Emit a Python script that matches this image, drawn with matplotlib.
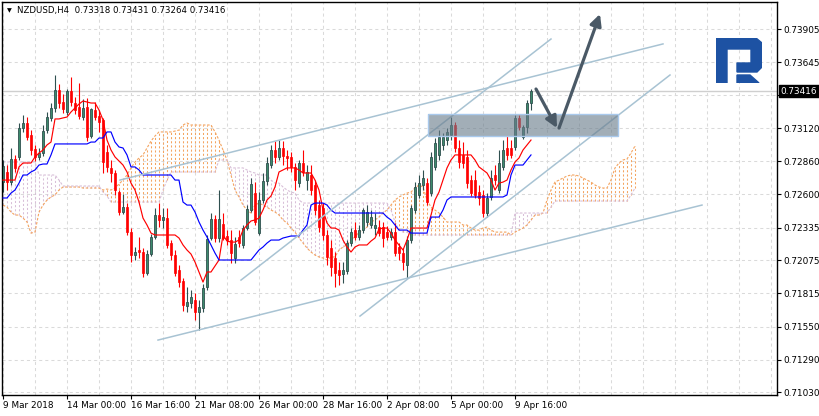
import numpy as np
import matplotlib
matplotlib.use("Agg")
import matplotlib.pyplot as plt
from matplotlib.patches import Rectangle, Polygon

plt.rcParams['font.family'] = ['DejaVu Sans']
plt.rcParams['lines.scale_dashes'] = False

# --- DATA (NZDUSD H4, one value per bar) ---
header = "NZDUSD,H4  0.73318 0.73431 0.73264 0.73416"
last_price = 0.73416

opens = [
    0.72695, 0.72775, 0.72695, 0.72878, 0.72894, 0.73123, 0.73163, 0.73068, 0.72957, 0.72894,
    0.72925, 0.73107, 0.73202, 0.73281, 0.73424, 0.73329, 0.73250, 0.73416, 0.73321, 0.73289,
    0.73210, 0.73289, 0.73060, 0.73266, 0.73218, 0.73187, 0.72933, 0.72807, 0.72767, 0.72616,
    0.72458, 0.72497, 0.72300, 0.72117, 0.72157, 0.72141, 0.71975, 0.72125, 0.72260, 0.72434,
    0.72395, 0.72410, 0.72212, 0.72117, 0.71999, 0.71911, 0.71714, 0.71737, 0.71761, 0.71666,
    0.71698, 0.71864, 0.72252, 0.72402, 0.72252, 0.72363, 0.72268, 0.72236, 0.72094, 0.72260,
    0.72197, 0.72331, 0.72474, 0.72608, 0.72292, 0.72553, 0.72703, 0.72830, 0.72949, 0.72894,
    0.72965, 0.72901, 0.72894, 0.72814, 0.72687, 0.72846, 0.72711, 0.72751, 0.72672, 0.72513,
    0.72490, 0.72276, 0.72173, 0.72094, 0.71999, 0.71967, 0.71991, 0.72212, 0.72315, 0.72260,
    0.72315, 0.72379, 0.72355, 0.72331, 0.72339, 0.72339, 0.72300, 0.72260, 0.72300, 0.72181,
    0.72133, 0.72038, 0.72236, 0.72474, 0.72592, 0.72672, 0.72687, 0.72608, 0.72814, 0.72909,
    0.72989, 0.73028, 0.73068, 0.73147, 0.72965, 0.72909, 0.72894, 0.72711, 0.72711, 0.72616,
    0.72592, 0.72450, 0.72577, 0.72751, 0.72632, 0.72814, 0.72965, 0.72965, 0.72973, 0.73202,
    0.73052, 0.73131, 0.73318,
]
highs = [
    0.72870, 0.72830, 0.72965, 0.72910, 0.73163, 0.73226, 0.73210, 0.73107, 0.72989, 0.72965,
    0.73147, 0.73250, 0.73321, 0.73543, 0.73472, 0.73392, 0.73432, 0.73527, 0.73369, 0.73480,
    0.73353, 0.73361, 0.73281, 0.73329, 0.73266, 0.73202, 0.72989, 0.72870, 0.72791, 0.72632,
    0.72600, 0.72529, 0.72331, 0.72181, 0.72260, 0.72173, 0.72157, 0.72283, 0.72490, 0.72529,
    0.72490, 0.72490, 0.72236, 0.72157, 0.72038, 0.71935, 0.71864, 0.71840, 0.71816, 0.71761,
    0.71888, 0.72276, 0.72450, 0.72434, 0.72632, 0.72450, 0.72315, 0.72315, 0.72260, 0.72315,
    0.72355, 0.72513, 0.72727, 0.72695, 0.72616, 0.72767, 0.72894, 0.72989, 0.73020, 0.73028,
    0.73020, 0.72949, 0.72933, 0.72846, 0.72870, 0.72949, 0.72830, 0.72830, 0.72711, 0.72553,
    0.72529, 0.72315, 0.72236, 0.72141, 0.72062, 0.72062, 0.72236, 0.72331, 0.72379, 0.72355,
    0.72490, 0.72513, 0.72474, 0.72450, 0.72395, 0.72379, 0.72347, 0.72331, 0.72371, 0.72212,
    0.72173, 0.72268, 0.72513, 0.72695, 0.72751, 0.72791, 0.72727, 0.72933, 0.73044, 0.73107,
    0.73083, 0.73123, 0.73210, 0.73171, 0.73028, 0.73012, 0.72949, 0.72751, 0.72791, 0.72672,
    0.72632, 0.72608, 0.72791, 0.72830, 0.72949, 0.73028, 0.73060, 0.73028, 0.73226, 0.73226,
    0.73147, 0.73345, 0.73431,
]
lows = [
    0.72616, 0.72632, 0.72672, 0.72775, 0.72870, 0.73091, 0.73028, 0.72909, 0.72862, 0.72870,
    0.72901, 0.73083, 0.73179, 0.73250, 0.73281, 0.73242, 0.73226, 0.73297, 0.73234, 0.73194,
    0.73187, 0.73020, 0.73044, 0.73187, 0.73091, 0.72767, 0.72775, 0.72695, 0.72592, 0.72434,
    0.72442, 0.72276, 0.72062, 0.72078, 0.72094, 0.71943, 0.71959, 0.72109, 0.72244, 0.72339,
    0.72331, 0.72173, 0.72078, 0.71951, 0.71864, 0.71674, 0.71666, 0.71698, 0.71603, 0.71523,
    0.71666, 0.71840, 0.72236, 0.72220, 0.72220, 0.72236, 0.72197, 0.72054, 0.72054, 0.72181,
    0.72173, 0.72315, 0.72458, 0.72355, 0.72276, 0.72529, 0.72672, 0.72807, 0.72846, 0.72870,
    0.72830, 0.72791, 0.72775, 0.72632, 0.72656, 0.72743, 0.72632, 0.72592, 0.72434, 0.72300,
    0.72236, 0.72038, 0.71951, 0.71864, 0.71880, 0.71896, 0.71967, 0.72189, 0.72236, 0.72236,
    0.72292, 0.72347, 0.72331, 0.72276, 0.72268, 0.72181, 0.72236, 0.72236, 0.72109, 0.72078,
    0.71999, 0.71935, 0.72212, 0.72450, 0.72568, 0.72632, 0.72513, 0.72584, 0.72791, 0.72870,
    0.72949, 0.72989, 0.73028, 0.72933, 0.72807, 0.72807, 0.72648, 0.72584, 0.72568, 0.72513,
    0.72418, 0.72418, 0.72553, 0.72672, 0.72608, 0.72791, 0.72870, 0.72886, 0.72949, 0.73107,
    0.73036, 0.73083, 0.73264,
]
closes = [
    0.72822, 0.72695, 0.72878, 0.72806, 0.73123, 0.73163, 0.73052, 0.72949, 0.72894, 0.72925,
    0.73099, 0.73210, 0.73281, 0.73424, 0.73321, 0.73274, 0.73416, 0.73329, 0.73266, 0.73218,
    0.73281, 0.73052, 0.73274, 0.73210, 0.73171, 0.72854, 0.72814, 0.72767, 0.72632, 0.72458,
    0.72497, 0.72300, 0.72117, 0.72141, 0.72141, 0.71975, 0.72125, 0.72260, 0.72434, 0.72395,
    0.72418, 0.72197, 0.72117, 0.71975, 0.71903, 0.71721, 0.71745, 0.71785, 0.71666, 0.71706,
    0.71856, 0.72244, 0.72402, 0.72252, 0.72402, 0.72252, 0.72236, 0.72133, 0.72205, 0.72212,
    0.72331, 0.72482, 0.72680, 0.72379, 0.72553, 0.72703, 0.72846, 0.72949, 0.72894, 0.72965,
    0.72901, 0.72886, 0.72814, 0.72711, 0.72846, 0.72775, 0.72775, 0.72632, 0.72474, 0.72339,
    0.72276, 0.72101, 0.72022, 0.71975, 0.71959, 0.71999, 0.72212, 0.72300, 0.72260, 0.72315,
    0.72474, 0.72458, 0.72418, 0.72355, 0.72292, 0.72252, 0.72260, 0.72300, 0.72133, 0.72133,
    0.72062, 0.72236, 0.72490, 0.72656, 0.72687, 0.72727, 0.72537, 0.72894, 0.73004, 0.73052,
    0.73052, 0.73091, 0.73147, 0.72965, 0.72854, 0.72846, 0.72687, 0.72608, 0.72592, 0.72568,
    0.72450, 0.72568, 0.72727, 0.72711, 0.72846, 0.72949, 0.72909, 0.72909, 0.73202, 0.73131,
    0.73131, 0.73321, 0.73416,
]

tenkan = [
    0.72711, 0.72711, 0.72711, 0.72711, 0.72815, 0.72846, 0.72846, 0.72846, 0.72894, 0.72925,
    0.72949, 0.72989, 0.73012, 0.73195, 0.73195, 0.73203, 0.73210, 0.73250, 0.73282, 0.73313,
    0.73337, 0.73329, 0.73321, 0.73321, 0.73266, 0.73187, 0.73028, 0.72949, 0.72894, 0.72862,
    0.72830, 0.72775, 0.72687, 0.72632, 0.72537, 0.72410, 0.72355, 0.72291, 0.72276, 0.72276,
    0.72276, 0.72276, 0.72276, 0.72276, 0.72252, 0.72197, 0.72157, 0.72125, 0.72062, 0.71983,
    0.71903, 0.71983, 0.71983, 0.72030, 0.72078, 0.72276, 0.72228, 0.72220, 0.72220, 0.72236,
    0.72315, 0.72355, 0.72387, 0.72395, 0.72410, 0.72474, 0.72553, 0.72585, 0.72656, 0.72775,
    0.72791, 0.72807, 0.72807, 0.72807, 0.72791, 0.72767, 0.72767, 0.72767, 0.72711, 0.72632,
    0.72474, 0.72371, 0.72331, 0.72331, 0.72315, 0.72236, 0.72181, 0.72141, 0.72181, 0.72197,
    0.72197, 0.72197, 0.72228, 0.72252, 0.72323, 0.72331, 0.72331, 0.72291, 0.72236, 0.72197,
    0.72157, 0.72236, 0.72331, 0.72331, 0.72331, 0.72331, 0.72331, 0.72434, 0.72553, 0.72616,
    0.72711, 0.72807, 0.72870, 0.72910, 0.72910, 0.72910, 0.72910, 0.72910, 0.72870, 0.72815,
    0.72791, 0.72767, 0.72711, 0.72632, 0.72687, 0.72695, 0.72711, 0.72791, 0.72854, 0.72886,
    0.72949, 0.72989, 0.73028,
]
kijun = [
    0.72569, 0.72569, 0.72608, 0.72632, 0.72687, 0.72751, 0.72751, 0.72775, 0.72791, 0.72830,
    0.72838, 0.72838, 0.72910, 0.72997, 0.72997, 0.72997, 0.72997, 0.72997, 0.72997, 0.72997,
    0.72997, 0.72997, 0.73012, 0.73012, 0.73044, 0.73044, 0.73092, 0.73092, 0.73012, 0.72973,
    0.72965, 0.72910, 0.72815, 0.72815, 0.72791, 0.72751, 0.72751, 0.72751, 0.72751, 0.72751,
    0.72751, 0.72751, 0.72751, 0.72711, 0.72711, 0.72537, 0.72513, 0.72513, 0.72458, 0.72379,
    0.72315, 0.72260, 0.72197, 0.72133, 0.72078, 0.72078, 0.72078, 0.72078, 0.72078, 0.72078,
    0.72078, 0.72078, 0.72078, 0.72117, 0.72157, 0.72181, 0.72212, 0.72236, 0.72236, 0.72236,
    0.72252, 0.72260, 0.72268, 0.72268, 0.72268, 0.72315, 0.72355, 0.72513, 0.72529, 0.72529,
    0.72529, 0.72513, 0.72474, 0.72450, 0.72450, 0.72450, 0.72450, 0.72450, 0.72450, 0.72450,
    0.72450, 0.72450, 0.72450, 0.72450, 0.72450, 0.72450, 0.72418, 0.72395, 0.72355, 0.72315,
    0.72315, 0.72315, 0.72291, 0.72291, 0.72291, 0.72291, 0.72291, 0.72418, 0.72418, 0.72418,
    0.72474, 0.72553, 0.72577, 0.72577, 0.72577, 0.72577, 0.72577, 0.72577, 0.72577, 0.72577,
    0.72577, 0.72577, 0.72577, 0.72577, 0.72577, 0.72577, 0.72593, 0.72751, 0.72830, 0.72830,
    0.72830, 0.72870, 0.72910,
]
# cloud, shifted 26 bars ahead of the last candle
span_a = [
    0.72513, 0.72497, 0.72458, 0.72434, 0.72434, 0.72410, 0.72379, 0.72291, 0.72299, 0.72458,
    0.72513, 0.72553, 0.72577, 0.72593, 0.72632, 0.72656, 0.72656, 0.72656, 0.72656, 0.72656,
    0.72648, 0.72648, 0.72648, 0.72648, 0.72648, 0.72632, 0.72640, 0.72632, 0.72648, 0.72680,
    0.72711, 0.72751, 0.72807, 0.72854, 0.72886, 0.72910, 0.72965, 0.73020, 0.73060, 0.73092,
    0.73092, 0.73092, 0.73092, 0.73099, 0.73107, 0.73147, 0.73163, 0.73147, 0.73147, 0.73147,
    0.73147, 0.73147, 0.73147, 0.73092, 0.73028, 0.72949, 0.72870, 0.72751, 0.72632, 0.72577,
    0.72513, 0.72474, 0.72450, 0.72513, 0.72529, 0.72513, 0.72497, 0.72474, 0.72458, 0.72434,
    0.72395, 0.72371, 0.72331, 0.72299, 0.72252, 0.72212, 0.72173, 0.72141, 0.72117, 0.72102,
    0.72094, 0.72078, 0.72102, 0.72102, 0.72157, 0.72181, 0.72197, 0.72236, 0.72260, 0.72299,
    0.72315, 0.72339, 0.72379, 0.72395, 0.72418, 0.72450, 0.72474, 0.72513, 0.72553, 0.72577,
    0.72593, 0.72608, 0.72616, 0.72648, 0.72672, 0.72656, 0.72553, 0.72497, 0.72474, 0.72450,
    0.72418, 0.72379, 0.72379, 0.72379, 0.72379, 0.72355, 0.72355, 0.72331, 0.72315, 0.72315,
    0.72331, 0.72339, 0.72315, 0.72299, 0.72299, 0.72299, 0.72299, 0.72276, 0.72299, 0.72315,
    0.72331, 0.72355, 0.72395, 0.72434, 0.72434, 0.72450, 0.72553, 0.72632, 0.72695, 0.72711,
    0.72727, 0.72743, 0.72751, 0.72751, 0.72743, 0.72727, 0.72711, 0.72695, 0.72672, 0.72656,
    0.72648, 0.72648, 0.72711, 0.72807, 0.72846, 0.72870, 0.72878, 0.72925, 0.72981,
]
span_b = [
    0.72854, 0.72854, 0.72854, 0.72854, 0.72854, 0.72854, 0.72854, 0.72854, 0.72854, 0.72751,
    0.72751, 0.72751, 0.72751, 0.72751, 0.72711, 0.72664, 0.72664, 0.72664, 0.72664, 0.72664,
    0.72664, 0.72664, 0.72664, 0.72664, 0.72664, 0.72616, 0.72585, 0.72537, 0.72537, 0.72537,
    0.72537, 0.72537, 0.72537, 0.72537, 0.72537, 0.72537, 0.72537, 0.72537, 0.72537, 0.72537,
    0.72632, 0.72711, 0.72775, 0.72775, 0.72775, 0.72775, 0.72775, 0.72775, 0.72775, 0.72775,
    0.72775, 0.72775, 0.72775, 0.72775, 0.72870, 0.72870, 0.72870, 0.72807, 0.72807, 0.72807,
    0.72807, 0.72791, 0.72775, 0.72767, 0.72751, 0.72751, 0.72751, 0.72711, 0.72687, 0.72687,
    0.72656, 0.72632, 0.72616, 0.72608, 0.72553, 0.72529, 0.72529, 0.72529, 0.72529, 0.72529,
    0.72529, 0.72529, 0.72529, 0.72529, 0.72529, 0.72529, 0.72529, 0.72529, 0.72529, 0.72529,
    0.72529, 0.72529, 0.72529, 0.72529, 0.72529, 0.72529, 0.72529, 0.72474, 0.72379, 0.72315,
    0.72299, 0.72299, 0.72276, 0.72276, 0.72276, 0.72276, 0.72276, 0.72276, 0.72276, 0.72276,
    0.72276, 0.72276, 0.72276, 0.72276, 0.72276, 0.72276, 0.72276, 0.72276, 0.72276, 0.72276,
    0.72276, 0.72276, 0.72276, 0.72276, 0.72276, 0.72276, 0.72276, 0.72276, 0.72450, 0.72450,
    0.72450, 0.72450, 0.72450, 0.72450, 0.72450, 0.72450, 0.72450, 0.72497, 0.72545, 0.72545,
    0.72545, 0.72545, 0.72545, 0.72545, 0.72545, 0.72545, 0.72545, 0.72545, 0.72545, 0.72545,
    0.72545, 0.72545, 0.72545, 0.72545, 0.72545, 0.72545, 0.72545, 0.72593, 0.72648,
]

date_ticks = [0, 16, 32, 48, 64, 80, 96, 112, 128]
date_labels = ["9 Mar 2018", "14 Mar 00:00", "16 Mar 16:00", "21 Mar 08:00", "26 Mar 00:00",
               "28 Mar 16:00", "2 Apr 08:00", "5 Apr 00:00", "9 Apr 16:00"]
price_ticks = [0.73905, 0.73645, 0.73385, 0.73120, 0.72860, 0.72600, 0.72335,
               0.72075, 0.71815, 0.71550, 0.71290, 0.71030]

# drawn objects: (bar, price) pairs
trend_lines = [
    ((29.25, 0.72711), (165.0, 0.73789)),
    ((38.75, 0.71444), (174.75, 0.72513)),
    ((59.5, 0.71919), (137.0, 0.73828)),
    ((89.25, 0.71634), (166.75, 0.73543)),
]
zone_bars = (106.25, 153.75)
zone_prices = (0.73060, 0.73234)
arrows = [
    ((133.25, 0.73432), (138.5, 0.73123)),
    ((139.0, 0.73123), (149.25, 0.74026)),
]

# --- COLOURS ---
BULL = '#3d8b6c'
BULL_EDGE = '#2f4f4f'
BEAR = '#ff0000'
SANDY = '#f4a460'
THISTLE = '#d8bfd8'
TLINE = '#a8c3d3'
GRID = '#dadada'

fig = plt.figure(figsize=(8.2, 4.16), dpi=100)
ax = fig.add_axes([2 / 820, 21 / 416, 775 / 820, 393 / 416])

o = np.array(opens)
h = np.array(highs)
l = np.array(lows)
c = np.array(closes)
x = np.arange(len(o))
up = c >= o

# cloud hatching and spans
sa = np.array(span_a)
sb = np.array(span_b)
xs = np.arange(len(sa))
cols = [SANDY if a >= b else THISTLE for a, b in zip(sa, sb)]
ax.vlines(xs, np.minimum(sa, sb), np.maximum(sa, sb), colors=cols,
          linestyles=[(0, (1.5, 1.5))], lw=0.75, zorder=1)
ax.plot(xs, sa, color=SANDY, lw=0.8, ls=(0, (1.8, 1.2)), zorder=1.2)
ax.plot(xs, sb, color=THISTLE, lw=0.8, ls=(0, (1.8, 1.2)), zorder=1.2)

# candles
ax.vlines(x[up], l[up], h[up], color=BULL_EDGE, lw=0.8, zorder=2)
ax.vlines(x[~up], l[~up], h[~up], color=BEAR, lw=0.8, zorder=2)
ax.bar(x[up], c[up] - o[up], bottom=o[up], width=0.72, color=BULL,
       edgecolor=BULL_EDGE, lw=0.6, zorder=2.1)
ax.bar(x[~up], o[~up] - c[~up], bottom=c[~up], width=0.62, color=BEAR,
       edgecolor=BEAR, lw=0.5, zorder=2.1)

# tenkan / kijun
ax.plot(np.arange(len(tenkan)), tenkan, color='#ff0000', lw=0.85, zorder=3)
ax.plot(np.arange(len(kijun)), kijun, color='#0000ff', lw=0.85, zorder=3)

# current price line
ax.axhline(last_price, color='#cfcfcf', lw=1.0, zorder=0.8)

# trend lines
for (x0, y0), (x1, y1) in trend_lines:
    ax.plot([x0, x1], [y0, y1], color=TLINE, lw=1.1, zorder=4)

# zone rectangle
ax.add_patch(Rectangle((zone_bars[0], zone_prices[0]), zone_bars[1] - zone_bars[0],
                       zone_prices[1] - zone_prices[0], facecolor='#6a7d8c', alpha=0.62,
                       edgecolor='none', zorder=5))
ax.add_patch(Rectangle((zone_bars[0], zone_prices[0]), zone_bars[1] - zone_bars[0],
                       zone_prices[1] - zone_prices[0], facecolor='none',
                       edgecolor='#a9c9ec', lw=1.0, zorder=5.1))

# arrows
for (x0, y0), (x1, y1) in arrows:
    ax.annotate('', xy=(x1, y1), xytext=(x0, y0),
                arrowprops=dict(arrowstyle='-|>', color='#4a5966', lw=2.3,
                                mutation_scale=17, shrinkA=0, shrinkB=0),
                zorder=6)

# axes and grid
ax.set_xlim(-0.25, 193.5)
ax.set_ylim(0.71009, 0.74121)
ax.set_xticks(date_ticks)
ax.set_xticklabels(date_labels)
ax.set_xticks(np.arange(0, 194, 8), minor=True)
for lab in ax.get_xticklabels():
    lab.set_horizontalalignment('left')
ax.yaxis.tick_right()
ax.set_yticks(price_ticks)
ax.set_yticklabels([f"{p:.5f}" for p in price_ticks])
ax.tick_params(axis='both', which='major', labelsize=6.4, length=3, width=0.8,
               color='black', pad=1.5)
ax.tick_params(axis='x', which='minor', length=0)
ax.grid(True, which='both', axis='x', color=GRID, lw=0.75, ls=(0, (2.2, 2.2)))
ax.grid(True, which='major', axis='y', color=GRID, lw=0.75, ls=(0, (2.2, 2.2)))
ax.set_axisbelow(True)
for sp in ax.spines.values():
    sp.set_linewidth(1.0)
    sp.set_color('black')

# last price tag
ax.annotate(f"{last_price:.5f}", xy=(1, last_price), xycoords=('axes fraction', 'data'),
            xytext=(2.4, 0), textcoords='offset points', ha='left', va='center',
            fontsize=6.4, color='white', annotation_clip=False, zorder=10,
            bbox=dict(boxstyle='square,pad=0.2', fc='black', ec='black'))

# header
fig.text(7 / 820, 1 - 10.5 / 416, "\u25bc", fontsize=4.5, va='center', ha='left')
fig.text(17 / 820, 1 - 11 / 416, header, fontsize=6.2, va='center', ha='left')

# logo
lax = fig.add_axes([716 / 820, (416 - 83) / 416, 46 / 820, 45 / 416])
lax.set_xlim(0, 46)
lax.set_ylim(45, 0)
lax.axis('off')
lax.patch.set_alpha(0)
lax.add_patch(Polygon([(0, 45), (0, 0), (40, 0), (46, 5), (46, 29), (41, 34), (21, 34),
                       (21, 25), (35, 25), (35, 11), (11, 11), (11, 45)],
                      closed=True, color='#1d52a3'))
lax.add_patch(Polygon([(21, 37), (34, 37), (43, 45), (21, 45)], closed=True,
                      color='#1d52a3'))

fig.savefig('out.png', dpi=100)
